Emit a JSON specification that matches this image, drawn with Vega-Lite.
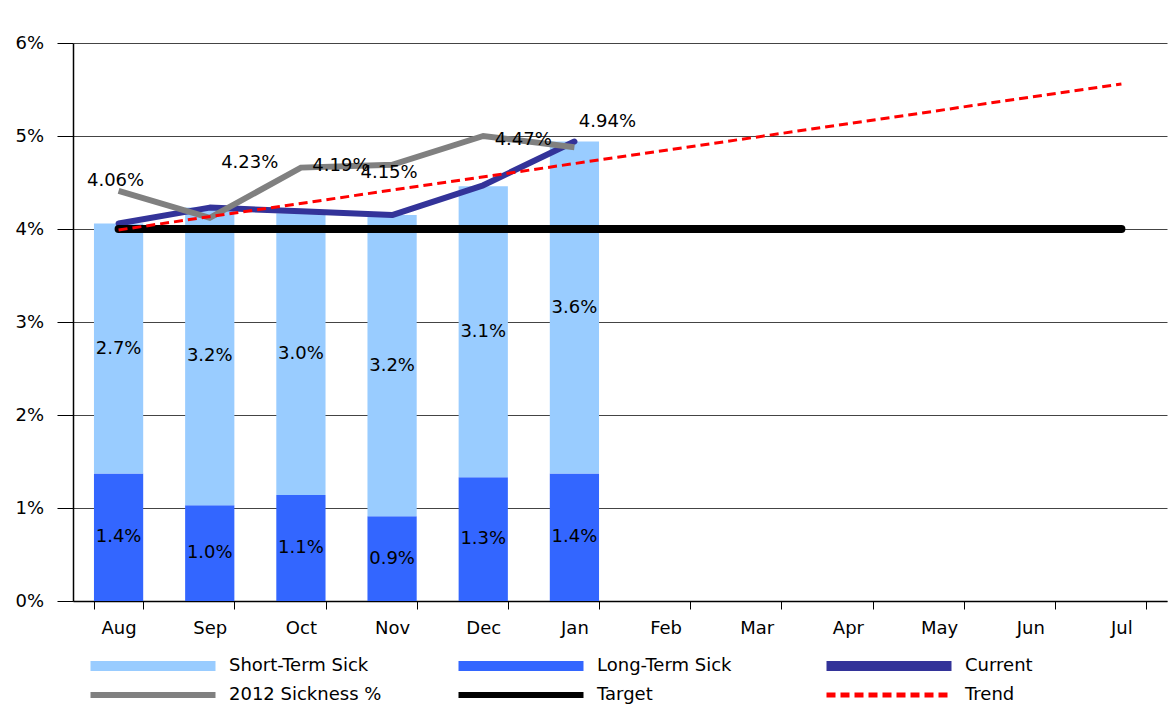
{
  "$schema": "https://vega.github.io/schema/vega-lite/v6.json",
  "width": 1094,
  "height": 558,
  "autosize": {"type": "none"},
  "padding": {"left": 73, "top": 43, "right": 5, "bottom": 116},
  "background": "white",
  "config": {
    "font": "DejaVu Sans",
    "view": {"stroke": null},
    "axis": {"labelFont": "DejaVu Sans", "labelColor": "black", "domainColor": "black", "tickColor": "black"}
  },
  "datasets": {
    "bars": [
      {"month": "Aug", "type": "Long-Term Sick", "value": 1.37},
      {"month": "Aug", "type": "Short-Term Sick", "value": 2.69},
      {"month": "Sep", "type": "Long-Term Sick", "value": 1.03},
      {"month": "Sep", "type": "Short-Term Sick", "value": 3.2},
      {"month": "Oct", "type": "Long-Term Sick", "value": 1.14},
      {"month": "Oct", "type": "Short-Term Sick", "value": 3.03},
      {"month": "Nov", "type": "Long-Term Sick", "value": 0.91},
      {"month": "Nov", "type": "Short-Term Sick", "value": 3.24},
      {"month": "Dec", "type": "Long-Term Sick", "value": 1.33},
      {"month": "Dec", "type": "Short-Term Sick", "value": 3.13},
      {"month": "Jan", "type": "Long-Term Sick", "value": 1.37},
      {"month": "Jan", "type": "Short-Term Sick", "value": 3.57}
    ],
    "current": [
      {"month": "Aug", "current": 4.06, "prev": 4.41},
      {"month": "Sep", "current": 4.23, "prev": 4.12},
      {"month": "Oct", "current": 4.19, "prev": 4.66},
      {"month": "Nov", "current": 4.15, "prev": 4.69},
      {"month": "Dec", "current": 4.47, "prev": 5.0},
      {"month": "Jan", "current": 4.94, "prev": 4.88}
    ],
    "target": [
      {"month": "Aug", "target": 4}, {"month": "Sep", "target": 4}, {"month": "Oct", "target": 4},
      {"month": "Nov", "target": 4}, {"month": "Dec", "target": 4}, {"month": "Jan", "target": 4},
      {"month": "Feb", "target": 4}, {"month": "Mar", "target": 4}, {"month": "Apr", "target": 4},
      {"month": "May", "target": 4}, {"month": "Jun", "target": 4}, {"month": "Jul", "target": 4}
    ],
    "trend": [
      {"month": "Aug", "trend": 3.99},
      {"month": "Jul", "trend": 5.56}
    ]
  },
  "encoding": {
    "x": {
      "field": "month", "type": "nominal",
      "scale": {"domain": ["Aug","Sep","Oct","Nov","Dec","Jan","Feb","Mar","Apr","May","Jun","Jul"], "paddingInner": 0.46, "paddingOuter": 0.23},
      "axis": {"title": null, "labelAngle": 0, "labelFontSize": 18, "labelPadding": 10, "tickSize": 8, "tickBand": "extent", "grid": false, "domainWidth": 1.5}
    }
  },
  "layer": [
    {
      "data": {"name": "bars"},
      "mark": {"type": "bar"},
      "encoding": {
        "y": {
          "field": "value", "type": "quantitative", "stack": "zero",
          "scale": {"domain": [0, 6], "nice": false},
          "axis": {"title": null, "values": [0,1,2,3,4,5,6], "labelExpr": "datum.value + '%'", "labelFontSize": 18, "labelAlign": "left", "labelPadding": 42, "tickSize": 16, "grid": true, "gridColor": "#444444", "gridWidth": 1, "domainWidth": 1.5}
        },
        "color": {
          "field": "type", "type": "nominal",
          "scale": {
            "domain": ["Short-Term Sick","Long-Term Sick","Current","2012 Sickness %","Target","Trend"],
            "range": ["#99CCFF","#3366FF","#333399","#808080","#000000","#FF0000"]
          },
          "legend": {
            "title": null, "orient": "none", "legendX": 71, "legendY": 614,
            "direction": "horizontal", "columns": 3, "columnPadding": 56, "rowPadding": -8, "gridAlign": "all",
            "symbolType": "stroke", "symbolSize": 15625, "symbolStrokeWidth": 7,
            "labelFontSize": 18, "labelFont": "DejaVu Sans", "labelColor": "black", "labelOffset": 67, "labelLimit": 300,
            "encode": {
              "symbols": {"update": {
                "stroke": {"scale": "color", "field": "value"},
                "fill": {"value": "transparent"},
                "strokeWidth": {"signal": "datum.value === 'Short-Term Sick' || datum.value === 'Long-Term Sick' || datum.value === 'Current' ? 10 : (datum.value === 'Trend' ? 5 : 6)"},
                "strokeDash": {"signal": "datum.value === 'Trend' ? [9, 5] : [1, 0]"}
              }}
            }
          }
        },
        "order": {"field": "type", "sort": "ascending"}
      }
    },
    {
      "data": {"name": "bars"},
      "transform": [
        {"stack": "value", "groupby": ["month"], "sort": [{"field": "type", "order": "ascending"}], "as": ["v0", "v1"]},
        {"calculate": "(datum.v0 + datum.v1) / 2", "as": "mid"},
        {"calculate": "format(datum.value, '.1f') + '%'", "as": "label"}
      ],
      "mark": {"type": "text", "fontSize": 18, "color": "black", "baseline": "middle"},
      "encoding": {
        "y": {"field": "mid", "type": "quantitative"},
        "text": {"field": "label"}
      }
    },
    {
      "data": {"name": "current"},
      "mark": {"type": "line", "strokeWidth": 6, "strokeJoin": "round", "strokeCap": "round"},
      "encoding": {
        "y": {"field": "current", "type": "quantitative"},
        "color": {"datum": "Current"}
      }
    },
    {
      "data": {"name": "current"},
      "mark": {"type": "line", "strokeWidth": 6, "strokeJoin": "miter"},
      "encoding": {
        "y": {"field": "prev", "type": "quantitative"},
        "color": {"datum": "2012 Sickness %"}
      }
    },
    {
      "data": {"name": "target"},
      "mark": {"type": "line", "strokeWidth": 8, "strokeCap": "round"},
      "encoding": {
        "y": {"field": "target", "type": "quantitative"},
        "color": {"datum": "Target"}
      }
    },
    {
      "data": {"name": "trend"},
      "mark": {"type": "line", "strokeWidth": 3, "strokeDash": [9, 5]},
      "encoding": {
        "y": {"field": "trend", "type": "quantitative"},
        "color": {"datum": "Trend"}
      }
    },
    {
      "data": {"name": "current"},
      "transform": [
        {"filter": "datum.month === 'Aug' || datum.month === 'Nov'"},
        {"calculate": "format(datum.current, '.2f') + '%'", "as": "label"}
      ],
      "mark": {"type": "text", "fontSize": 18, "color": "black", "baseline": "middle", "dx": -3, "dy": -42},
      "encoding": {"y": {"field": "current", "type": "quantitative"}, "text": {"field": "label"}}
    },
    {
      "data": {"name": "current"},
      "transform": [
        {"filter": "datum.month === 'Sep' || datum.month === 'Oct' || datum.month === 'Dec'"},
        {"calculate": "format(datum.current, '.2f') + '%'", "as": "label"}
      ],
      "mark": {"type": "text", "fontSize": 18, "color": "black", "baseline": "middle", "dx": 40, "dy": -45},
      "encoding": {"y": {"field": "current", "type": "quantitative"}, "text": {"field": "label"}}
    },
    {
      "data": {"name": "current"},
      "transform": [
        {"filter": "datum.month === 'Jan'"},
        {"calculate": "format(datum.current, '.2f') + '%'", "as": "label"}
      ],
      "mark": {"type": "text", "fontSize": 18, "color": "black", "baseline": "middle", "dx": 33, "dy": -20},
      "encoding": {"y": {"field": "current", "type": "quantitative"}, "text": {"field": "label"}}
    }
  ]
}
